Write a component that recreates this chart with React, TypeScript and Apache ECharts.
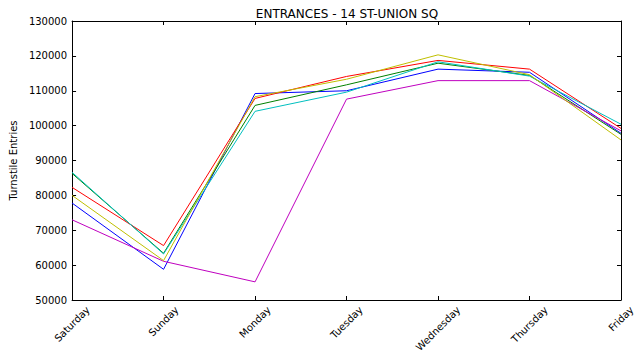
import React, { useEffect, useRef } from "react";
import * as echarts from "echarts";

const days = ["Saturday", "Sunday", "Monday", "Tuesday", "Wednesday", "Thursday", "Friday"];
const seriesNames = ["Week 1", "Week 2", "Week 3", "Week 4", "Week 5", "Week 6"];
const seriesColors = ["#0000ff", "#008000", "#ff0000", "#00bfbf", "#bf00bf", "#bfbf00"];

const week1 = [77800, 58800, 109200, 110000, 116200, 115300, 97800];
const week2 = [86300, 63400, 105800, 111700, 117900, 114400, 97500];
const week3 = [82300, 65600, 107800, 114100, 118700, 116200, 99200];
const week4 = [86600, 63200, 104100, 109600, 118300, 114200, 100400];
const week5 = [73000, 61100, 55200, 107600, 112900, 112900, 98500];
const week6 = [80000, 61300, 108300, 113300, 120300, 114600, 95900];

const yMin = 50000;
const yMax = 130000;
const yStep = 10000;

const FONT = "DejaVu Sans";

export default function App() {
  const ref = useRef<HTMLDivElement>(null);
  useEffect(() => {
    const chart = echarts.init(ref.current!, null, { renderer: "svg" });
    const ctx = document.createElement("canvas").getContext("2d")!;
    ctx.font = `10px "${FONT}"`;
    const allData = [week1, week2, week3, week4, week5, week6];
    const axisLine = { show: true, lineStyle: { color: "#000", width: 1 } };
    const tick = { show: true, inside: true, length: 4, lineStyle: { color: "#000" } };
    chart.setOption({
      animation: false,
      title: {
        text: "ENTRANCES - 14 ST-UNION SQ",
        left: 342,
        top: 3,
        textAlign: "center",
        textStyle: { fontSize: 12, fontWeight: "normal", color: "#000", fontFamily: FONT },
      },
      grid: { left: 63, right: 20, top: 21, bottom: 59, containLabel: false },
      xAxis: [
        {
          type: "category",
          data: days,
          boundaryGap: false,
          position: "bottom",
          axisLine,
          axisTick: tick,
          splitLine: { show: false },
          axisLabel: { show: false },
        },
        {
          type: "category",
          data: days,
          boundaryGap: false,
          position: "top",
          axisLine,
          axisTick: tick,
          axisLabel: { show: false },
          splitLine: { show: false },
        },
      ],
      yAxis: [
        {
          type: "value",
          min: yMin,
          max: yMax,
          interval: yStep,
          position: "left",
          axisLine,
          axisTick: tick,
          splitLine: { show: false },
          axisLabel: {
            fontSize: 10,
            fontFamily: FONT,
            color: "#000",
            margin: 5,
            formatter: (v: number) => String(v),
          },
          name: "Turnstile Entries",
          nameLocation: "middle",
          nameGap: 48,
          nameTextStyle: { fontSize: 10, fontFamily: FONT, color: "#000" },
        },
        {
          type: "value",
          min: yMin,
          max: yMax,
          interval: yStep,
          position: "right",
          axisLine,
          axisTick: tick,
          splitLine: { show: false },
          axisLabel: { show: false },
        },
      ],
      series: allData.map((d, i) => ({
        name: seriesNames[i],
        type: "line",
        data: d,
        xAxisIndex: 0,
        yAxisIndex: 0,
        symbol: "none",
        lineStyle: { width: 1, color: seriesColors[i] },
        itemStyle: { color: seriesColors[i] },
      })),
    });
    // rotated category labels, centred under each tick as in the reference
    const labels = days.map((d, i) => {
      const [px, py] = chart.convertToPixel({ xAxisIndex: 0, yAxisIndex: 0 }, [i, yMin]) as number[];
      const w = ctx.measureText(d).width;
      const H = (w + 11.6) * Math.SQRT1_2;
      return {
        type: "text",
        x: px,
        y: py + 4 + H / 2,
        rotation: Math.PI / 4,
        style: {
          text: d,
          fill: "#000",
          font: `10px "${FONT}"`,
          align: "center",
          verticalAlign: "middle",
        },
      };
    });
    chart.setOption({ graphic: labels });
    return () => chart.dispose();
  }, []);
  return (
    <div
      ref={ref}
      style={{ position: "fixed", left: 0, top: 0, width: 641, height: 359, background: "#fff" }}
    />
  );
}
